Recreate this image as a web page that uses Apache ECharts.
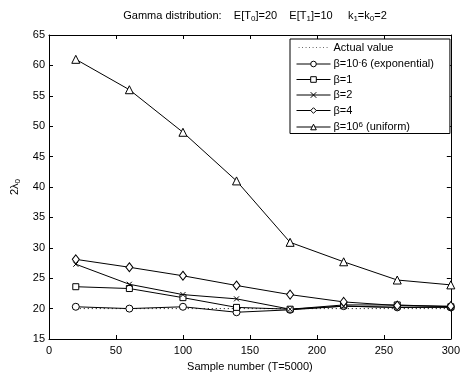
<!DOCTYPE html>
<html><head><meta charset="utf-8">
<script src="https://cdn.jsdelivr.net/npm/echarts@6/dist/echarts.min.js"></script>
<style>html,body{margin:0;padding:0;background:#fff}#c{width:463px;height:377px}</style>
</head><body><div id="c"></div>
<script>
var xValues = [20, 60, 100, 140, 180, 220, 260, 300];
var actualValue = [20, 20, 20, 20, 20, 20, 20, 20];
var betaExp = [20.3, 20.0, 20.3, 19.4, 19.8, 20.4, 20.2, 20.2];
var beta1 = [23.6, 23.3, 21.8, 20.2, 19.9, 20.6, 20.6, 20.3];
var beta2 = [27.3, 24.0, 22.3, 21.6, 19.9, 20.4, 20.2, 20.3];
var beta4 = [28.1, 26.8, 25.4, 23.8, 22.3, 21.1, 20.5, 20.4];
var betaUni = [61.0, 56.0, 49.0, 41.0, 30.9, 27.7, 24.7, 23.9];
var seriesNames = ['Actual value', 'β=10{sup|-}6 (exponential)', 'β=1', 'β=2', 'β=4', 'β=10{sup|6} (uniform)'];

function pairs(v){ return xValues.map(function(x,i){ return [x, v[i]]; }); }
var font = 'Liberation Sans, Arial, sans-serif';
function mk(name, data, symbol, size, dotted){
  return {
    name: name, type:'line', data: pairs(data),
    symbol: symbol || 'none', symbolSize: size || 7,
    showSymbol: !!symbol,
    lineStyle:{color:'#000', width:1, type: dotted ? [1,3] : 'solid'},
    itemStyle: {color:'#fff', borderColor:'#000', borderWidth:1},
    emphasis:{disabled:true}, animation:false, z: 3
  };
}
var dots = '';
for (var i = 0; i < 34; i += 4) { dots += 'M' + i + ',3.5h1v1h-1z'; }
var dottedIcon = 'path://M0,0h0.01v0.01h-0.01zM33.99,7.99h0.01v0.01h-0.01z' + dots;

var chart = echarts.init(document.getElementById('c'));
var axisCommon = {
  axisLine:{show:true, onZero:false, lineStyle:{color:'#000', width:1}},
  axisTick:{show:true, inside:true, length:4, lineStyle:{color:'#000'}},
  splitLine:{show:false}
};
chart.setOption({
  backgroundColor:'#fff',
  animation:false,
  title:{
    text:'Gamma distribution:    E[T{sub|0}]=20    E[T{sub|1}]=10     k{sub|1}=k{sub|0}=2',
    left:250, top:4, textAlign:'center',
    textStyle:{fontFamily:font, fontSize:11, fontWeight:'normal', color:'#000',
      rich:{sub:{fontFamily:font, fontSize:8, verticalAlign:'bottom', padding:[6,0,0,0], color:'#000'}}}
  },
  grid:{left:49, right:10, top:35, bottom:32},
  legend:{
    orient:'vertical', left:290, top:39,
    padding:[3,16,1,6],
    itemGap:4.5, itemWidth:34, itemHeight:7,
    backgroundColor:'#fff', borderColor:'#000', borderWidth:1,
    lineStyle:{width:1, color:'#000'},
    itemStyle:{color:'#fff', borderColor:'#000', borderWidth:1},
    textStyle:{fontFamily:font, fontSize:11, color:'#000', padding:[0,0,0,-2],
      rich:{sup:{fontFamily:font, fontSize:8, color:'#000', verticalAlign:'top', padding:[0,0,5,0]}}},
    data: seriesNames.map(function(n, i){
      return i === 0 ? {name:n, icon:dottedIcon, itemStyle:{color:'#555', borderWidth:0}} : {name:n};
    })
  },
  xAxis:[
    Object.assign({type:'value', min:0, max:300, interval:50, position:'bottom',
      name:'Sample number (T=5000)', nameLocation:'middle', nameGap:22,
      nameTextStyle:{fontFamily:font, fontSize:11, color:'#000'},
      axisLabel:{fontFamily:font, fontSize:11, color:'#000', margin:6}}, axisCommon),
    Object.assign({type:'value', min:0, max:300, interval:50, position:'top',
      axisLabel:{show:false}}, axisCommon)
  ],
  yAxis:[
    Object.assign({type:'value', min:15, max:65, interval:5, position:'left',
      name:'2λ{sub|0}', nameLocation:'middle', nameGap:26, nameRotate:90,
      nameTextStyle:{fontFamily:font, fontSize:11, color:'#000',
        rich:{sub:{fontFamily:font, fontSize:8, color:'#000', verticalAlign:'bottom', padding:[6,0,0,0]}}},
      axisLabel:{fontFamily:font, fontSize:11, color:'#000', margin:4}}, axisCommon),
    Object.assign({type:'value', min:15, max:65, interval:5, position:'right',
      axisLabel:{show:false}}, axisCommon)
  ],
  series:[
    mk(seriesNames[0], actualValue, null, 0, true),
    mk(seriesNames[1], betaExp, 'circle', 7),
    mk(seriesNames[2], beta1, 'rect', 6),
    mk(seriesNames[3], beta2, 'path://M0,0L10,10M10,0L0,10', 5),
    mk(seriesNames[4], beta4, 'diamond', [7, 9]),
    mk(seriesNames[5], betaUni, 'triangle', 8)
  ]
});
</script></body></html>
